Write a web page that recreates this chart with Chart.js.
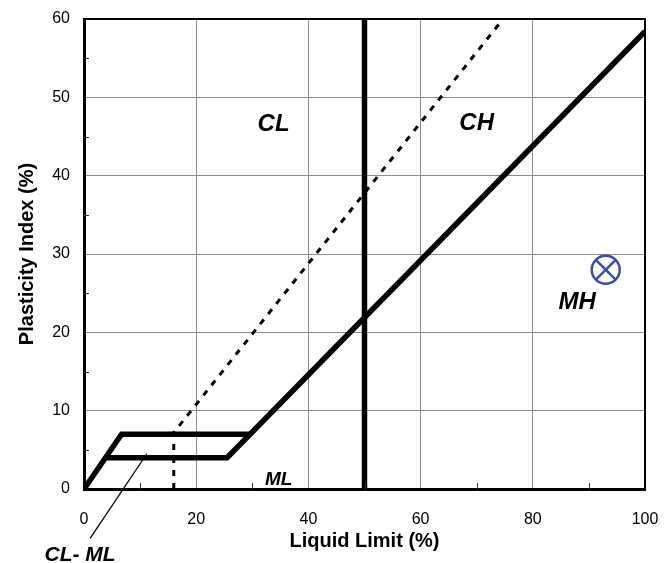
<!DOCTYPE html>
<html>
<head>
<meta charset="utf-8">
<script src="https://cdn.jsdelivr.net/npm/chart.js@4.4.1/dist/chart.umd.min.js"></script>
<style>
  html, body { margin: 0; padding: 0; background: #fff; }
  #wrap { width: 669px; height: 563px; }
</style>
</head>
<body>
<div id="wrap"><canvas id="plasticity"></canvas></div>
<script>
// boundary lines of the plasticity chart
const llUpper = [0, 6.7, 29.6];
const piUpper = [0, 7, 7];
const llALine = [3.8, 25.5, 100];
const piALine = [4, 4, 58.4];
const llDivide = [50, 50];
const piDivide = [0, 60];
const llULine = [16, 16, 74.7];
const piULine = [0, 7.2, 60];
const llLeader = [1.1, 11.2];
const piLeader = [-6.3, 4.5];
const sampleLL = [93];
const samplePI = [28];

const zoneNames = ['CL', 'CH', 'MH', 'ML', 'CL- ML'];

function pts(xs, ys) {
  return xs.map((x, i) => ({ x: x, y: ys[i] }));
}

function line(xs, ys, width, dash) {
  return {
    data: pts(xs, ys),
    showLine: true,
    borderColor: '#000',
    borderWidth: width,
    borderDash: dash || [],
    borderCapStyle: 'butt',
    borderJoinStyle: 'miter',
    pointRadius: 0,
    fill: false
  };
}

const leader = line(llLeader, piLeader, 1.3);
leader.clip = false;

const blue = '#3550ad';

// frame, minor ticks and zone labels
const extras = {
  id: 'extras',
  afterDatasetsDraw(chart) {
    const ctx = chart.ctx;
    const a = chart.chartArea;
    const xs = chart.scales.x, ys = chart.scales.y;
    ctx.save();
    ctx.strokeStyle = '#000';
    ctx.lineWidth = 2;
    ctx.beginPath();
    ctx.moveTo(a.left, a.top);
    ctx.lineTo(a.right, a.top);
    ctx.lineTo(a.right, a.bottom);
    ctx.stroke();

    ctx.lineWidth = 1;
    ctx.strokeStyle = '#333';
    for (let v = 5; v < 60; v += 10) {
      const py = Math.round(ys.getPixelForValue(v)) + 0.5;
      ctx.beginPath();
      ctx.moveTo(a.left, py);
      ctx.lineTo(a.left + 5, py);
      ctx.stroke();
    }
    for (let v = 10; v < 100; v += 20) {
      const px = Math.round(xs.getPixelForValue(v)) + 0.5;
      ctx.beginPath();
      ctx.moveTo(px, a.bottom);
      ctx.lineTo(px, a.bottom - 6);
      ctx.stroke();
    }

    ctx.fillStyle = '#000';
    ctx.textAlign = 'center';
    ctx.textBaseline = 'middle';
    const spots = [
      [33.8, 46.5, 24], [70, 46.7, 24], [87.9, 23.8, 24], [34.7, 1.2, 19], [-0.7, -8.4, 21]
    ];
    zoneNames.forEach((name, i) => {
      const s = spots[i];
      ctx.font = 'italic bold ' + s[2] + 'px "Liberation Sans", Arial, sans-serif';
      ctx.fillText(name, xs.getPixelForValue(s[0]), ys.getPixelForValue(s[1]));
    });
    ctx.restore();
  }
};

new Chart(document.getElementById('plasticity'), {
  type: 'scatter',
  data: {
    datasets: [
      line(llUpper, piUpper, 5.5),
      line(llALine, piALine, 5.5),
      line(llDivide, piDivide, 5.5),
      line(llULine, piULine, 3, [6, 7]),
      leader,
      {
        data: pts(sampleLL, samplePI),
        pointStyle: 'circle',
        pointRadius: 14,
        pointBorderWidth: 2.5,
        pointBorderColor: blue,
        pointBackgroundColor: 'rgba(0,0,0,0)'
      },
      {
        data: pts(sampleLL, samplePI),
        pointStyle: 'crossRot',
        pointRadius: 14,
        pointBorderWidth: 2.5,
        pointBorderColor: blue
      }
    ]
  },
  options: {
    responsive: true,
    maintainAspectRatio: false,
    animation: false,
    layout: { padding: { top: 19, right: 24, left: 0, bottom: 0 } },
    plugins: {
      legend: { display: false },
      tooltip: { enabled: false }
    },
    scales: {
      x: {
        type: 'linear',
        min: 0,
        max: 100,
        afterFit: (s) => { s.height = 74; s.paddingLeft = 0; s.paddingRight = 0; },
        ticks: {
          stepSize: 20,
          padding: 21,
          color: '#000',
          font: { family: '"Liberation Sans", Arial, sans-serif', size: 16 }
        },
        grid: { color: '#8c8c8c', lineWidth: 1, drawTicks: false },
        border: { color: '#000', width: 3 },
        title: {
          display: true,
          text: 'Liquid Limit (%)',
          color: '#000',
          padding: { top: 0, bottom: 10 },
          font: { family: '"Liberation Sans", Arial, sans-serif', size: 20, weight: 'bold' }
        }
      },
      y: {
        type: 'linear',
        min: 0,
        max: 60,
        afterFit: (s) => { s.width = 84; s.paddingTop = 0; s.paddingBottom = 0; },
        ticks: {
          stepSize: 10,
          padding: 14,
          color: '#000',
          font: { family: '"Liberation Sans", Arial, sans-serif', size: 16 }
        },
        grid: { color: '#8c8c8c', lineWidth: 1, drawTicks: false },
        border: { color: '#000', width: 3 },
        title: {
          display: true,
          text: 'Plasticity Index (%)',
          color: '#000',
          padding: { top: 15, bottom: 0 },
          font: { family: '"Liberation Sans", Arial, sans-serif', size: 20, weight: 'bold' }
        }
      }
    }
  },
  plugins: [extras]
});
</script>
</body>
</html>
